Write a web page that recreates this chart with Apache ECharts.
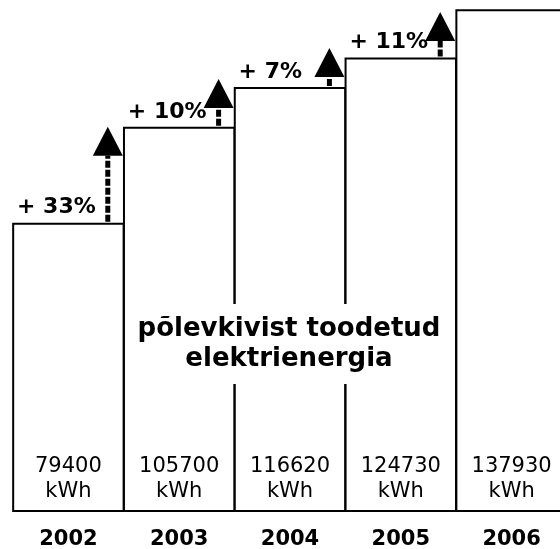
<!DOCTYPE html>
<html>
<head>
<meta charset="utf-8">
<script src="https://cdn.jsdelivr.net/npm/echarts@6/dist/echarts.min.js"></script>
<style>html,body{margin:0;padding:0;background:#fff;}#c{width:560px;height:549px;}</style>
</head>
<body>
<div id="c"></div>
<script>
var years = ['2002', '2003', '2004', '2005', '2006'];
var values = [79400, 105700, 116620, 124730, 137930];
var growthLabels = ['+ 33%', '+ 10%', '+ 7%', '+ 11%'];
var arrowTips = [105700, 118800, 127300, 137200];
var centerText = 'põlevkivist toodetud\nelektrienergia';

var FONT = '"DejaVu Sans", Verdana, sans-serif';
var chart = echarts.init(document.getElementById('c'), null, {renderer: 'canvas'});

var arrowData = growthLabels.map(function (g, i) {
  return [i, values[i], arrowTips[i], g];
});

chart.setOption({
  animation: false,
  backgroundColor: '#fff',
  grid: {left: 13, top: 0, bottom: 37, width: 554, outerBoundsMode: 'none', containLabel: false},
  xAxis: {
    type: 'category',
    data: years,
    axisLine: {show: false},
    axisTick: {show: false},
    axisLabel: {color: '#000', fontFamily: FONT, fontWeight: 'bold', fontSize: 21, lineHeight: 22, margin: 17}
  },
  yAxis: {type: 'value', min: 0, max: 140500, show: false, splitLine: {show: false}},
  series: [
    {
      type: 'bar',
      data: values,
      barWidth: '101.5%',
      itemStyle: {color: '#fff', borderColor: '#000', borderWidth: 2},
      label: {
        show: true,
        position: 'insideBottom',
        distance: 8,
        formatter: '{c}\nkWh',
        fontFamily: FONT,
        fontSize: 21,
        lineHeight: 25,
        color: '#000'
      },
      z: 2
    },
    {
      type: 'custom',
      data: arrowData,
      z: 5,
      renderItem: function (params, api) {
        var i = api.value(0);
        var base = api.coord([i, api.value(1)]);
        var tip = api.coord([i, api.value(2)]);
        var w = api.size([1, 0])[0];
        var right = base[0] + w / 2;
        var left = base[0] - w / 2;
        var ax = right - 16;
        var triH = 29, triW = 30;
        var triBase = tip[1] + triH;
        return {
          type: 'group',
          children: [
            {
              type: 'line',
              shape: {x1: ax, y1: base[1] - 1, x2: ax, y2: triBase},
              style: {stroke: '#000', lineWidth: 5, lineDash: [7, 2], lineCap: 'butt'}
            },
            {
              type: 'polygon',
              shape: {points: [[ax, tip[1]], [ax - triW / 2, triBase], [ax + triW / 2, triBase]]},
              style: {fill: '#000'}
            },
            {
              type: 'text',
              style: {
                x: left + 4,
                y: base[1] - 15,
                text: api.value(3),
                align: 'left',
                verticalAlign: 'middle',
                fill: '#000',
                font: 'bold 22px ' + FONT
              }
            }
          ]
        };
      }
    }
  ],
  graphic: [
    {
      type: 'text',
      z: 100,
      x: 289,
      y: 344,
      style: {
        text: centerText,
        align: 'center',
        verticalAlign: 'middle',
        font: 'bold 26px ' + FONT,
        lineHeight: 30,
        fill: '#000',
        backgroundColor: '#fff',
        padding: [10, 8]
      }
    }
  ]
});
</script>
</body>
</html>
